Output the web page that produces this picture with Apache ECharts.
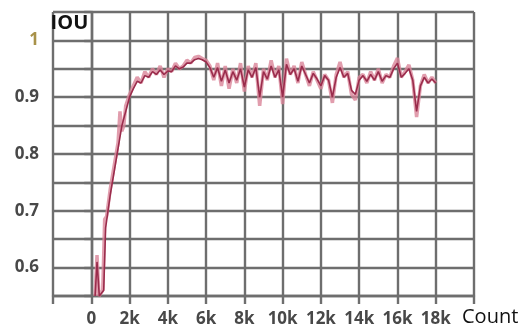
<!DOCTYPE html>
<html>
<head>
<meta charset="utf-8">
<script src="https://cdn.jsdelivr.net/npm/echarts@6/dist/echarts.min.js"></script>
<style>
  html, body { margin: 0; padding: 0; background: #fff; }
  #chart { width: 531px; height: 328px; }
</style>
</head>
<body>
<div id="chart"></div>
<script>
// Training iterations (count) and IOU per logged step
const rawCounts = [200, 300, 400, 600, 700, 800, 1000, 1200, 1400, 1500, 1600, 1700, 1800, 2000,
  2200, 2400, 2600, 2800, 3000, 3200, 3400, 3600, 3800, 4000, 4200, 4400, 4600, 4800, 5000,
  5200, 5400, 5600, 5800, 6000, 6200, 6400, 6600, 6800, 7000, 7200, 7400, 7600, 7800, 8000,
  8200, 8400, 8600, 8800, 9000, 9200, 9400, 9600, 9800, 10000, 10200, 10400, 10600, 10800, 11000,
  11200, 11400, 11600, 11800, 12000, 12200, 12400, 12600, 12800, 13000, 13200, 13400, 13600, 13800, 14000,
  14200, 14400, 14600, 14800, 15000, 15200, 15400, 15600, 15800, 16000, 16200, 16400, 16600, 16800, 17000,
  17200, 17400, 17600, 17800, 18000];
const rawIou = [0.55, 0.622, 0.55, 0.56, 0.685, 0.69, 0.74, 0.78, 0.82, 0.875, 0.84, 0.85, 0.885, 0.905,
  0.92, 0.935, 0.925, 0.945, 0.935, 0.95, 0.94, 0.955, 0.935, 0.95, 0.945, 0.96, 0.95, 0.955, 0.965,
  0.96, 0.97, 0.972, 0.968, 0.965, 0.955, 0.93, 0.96, 0.92, 0.955, 0.915, 0.95, 0.925, 0.96, 0.91,
  0.955, 0.935, 0.96, 0.885, 0.95, 0.93, 0.965, 0.935, 0.955, 0.888, 0.968, 0.94, 0.955, 0.925, 0.962,
  0.94, 0.92, 0.945, 0.93, 0.915, 0.94, 0.93, 0.89, 0.94, 0.962, 0.935, 0.945, 0.905, 0.895, 0.935,
  0.94, 0.925, 0.945, 0.93, 0.95, 0.925, 0.94, 0.935, 0.955, 0.969, 0.935, 0.945, 0.957, 0.93, 0.865,
  0.92, 0.94, 0.925, 0.935, 0.925];

// Smoothed trend of the same run
const smoothCounts = [200, 300, 420, 650, 750, 1000, 1200, 1400, 1600, 1800, 2000,
  2200, 2400, 2600, 2800, 3000, 3200, 3400, 3600, 3800, 4000, 4200, 4400, 4600, 4800, 5000,
  5200, 5400, 5600, 5800, 6000, 6200, 6400, 6600, 6800, 7000, 7200, 7400, 7600, 7800, 8000,
  8200, 8400, 8600, 8800, 9000, 9200, 9400, 9600, 9800, 10000, 10200, 10400, 10600, 10800, 11000,
  11200, 11400, 11600, 11800, 12000, 12200, 12400, 12600, 12800, 13000, 13200, 13400, 13600, 13800, 14000,
  14200, 14400, 14600, 14800, 15000, 15200, 15400, 15600, 15800, 16000, 16200, 16400, 16600, 16800, 17000,
  17200, 17400, 17600, 17800, 18000];
const smoothIou = [0.55, 0.61, 0.55, 0.56, 0.67, 0.73, 0.77, 0.81, 0.85, 0.875, 0.9,
  0.915, 0.928, 0.925, 0.938, 0.935, 0.945, 0.94, 0.948, 0.94, 0.946, 0.945, 0.955, 0.95, 0.953, 0.96,
  0.96, 0.966, 0.968, 0.966, 0.962, 0.952, 0.935, 0.952, 0.928, 0.948, 0.925, 0.945, 0.93, 0.95, 0.918,
  0.948, 0.935, 0.952, 0.9, 0.945, 0.932, 0.955, 0.935, 0.948, 0.9, 0.958, 0.94, 0.95, 0.928, 0.955,
  0.94, 0.925, 0.942, 0.932, 0.92, 0.938, 0.93, 0.9, 0.935, 0.952, 0.935, 0.942, 0.912, 0.905, 0.93,
  0.938, 0.928, 0.94, 0.93, 0.945, 0.928, 0.938, 0.935, 0.95, 0.96, 0.935, 0.942, 0.95, 0.93, 0.875,
  0.92, 0.935, 0.925, 0.932, 0.925];

const yLabelValues = [0.6, 0.7, 0.8, 0.9, 1];
const xLabelValues = [0, 2000, 4000, 6000, 8000, 10000, 12000, 14000, 16000, 18000];

const pair = (xs, ys) => xs.map((x, i) => [x, ys[i]]);

const gridColor = '#6e6e6e';
const labelFont = 'Open Sans';

const chart = echarts.init(document.getElementById('chart'), null, { renderer: 'canvas' });
chart.setOption({
  backgroundColor: '#ffffff',
  animation: false,
  grid: { left: 53, right: 57, top: 12, bottom: 32 },
  xAxis: {
    type: 'value',
    min: -2000, max: 20000, interval: 2000,
    name: 'Count',
    nameLocation: 'end',
    nameGap: -12,
    nameTextStyle: { color: '#111', fontSize: 20, fontFamily: labelFont, align: 'left', verticalAlign: 'top', padding: [11, 0, 0, 0] },
    axisLine: { show: true, lineStyle: { color: gridColor, width: 2.4 } },
    axisTick: { show: true, length: 8, lineStyle: { color: gridColor, width: 2.4 } },
    splitLine: { show: true, lineStyle: { color: gridColor, width: 2.4 } },
    axisLabel: {
      margin: 15,
      color: '#484848',
      fontSize: 17,
      fontWeight: 'bold',
      fontFamily: labelFont,
      formatter: v => {
        const hit = xLabelValues.find(t => Math.abs(t - v) < 1);
        if (hit === undefined) return '';
        return hit === 0 ? '0' : (hit / 1000) + 'k';
      }
    }
  },
  yAxis: {
    type: 'value',
    min: 0.55, max: 1.05, interval: 0.05,
    name: 'IOU',
    nameLocation: 'end',
    nameGap: 0,
    nameTextStyle: { color: '#111', fontSize: 20, fontWeight: 'bold', fontFamily: labelFont, align: 'right', verticalAlign: 'top', padding: [1, 3, 0, 0] },
    axisLine: { show: true, lineStyle: { color: gridColor, width: 2.4 } },
    axisTick: { show: true, length: 7, lineStyle: { color: gridColor, width: 2.4 } },
    splitLine: { show: true, lineStyle: { color: gridColor, width: 2.4 } },
    axisLabel: {
      margin: 14,
      color: '#484848',
      fontSize: 17,
      fontWeight: 'bold',
      fontFamily: labelFont,
      formatter: v => {
        const hit = yLabelValues.find(t => Math.abs(t - v) < 1e-6);
        if (hit === undefined) return '';
        return hit === 1 ? '{one|1}' : String(hit);
      },
      rich: { one: { color: '#a8924a', fontSize: 17, fontWeight: 'bold', fontFamily: labelFont } }
    }
  },
  series: [
    {
      name: 'IOU',
      type: 'line',
      data: pair(rawCounts, rawIou),
      showSymbol: false,
      clip: true,
      lineStyle: { color: '#d98499', width: 3.5, opacity: 0.8 },
      z: 2
    },
    {
      name: 'IOU (smoothed)',
      type: 'line',
      data: pair(smoothCounts, smoothIou),
      showSymbol: false,
      clip: true,
      lineStyle: { color: '#9a2c4c', width: 1.6 },
      z: 3
    }
  ]
});
</script>
</body>
</html>
